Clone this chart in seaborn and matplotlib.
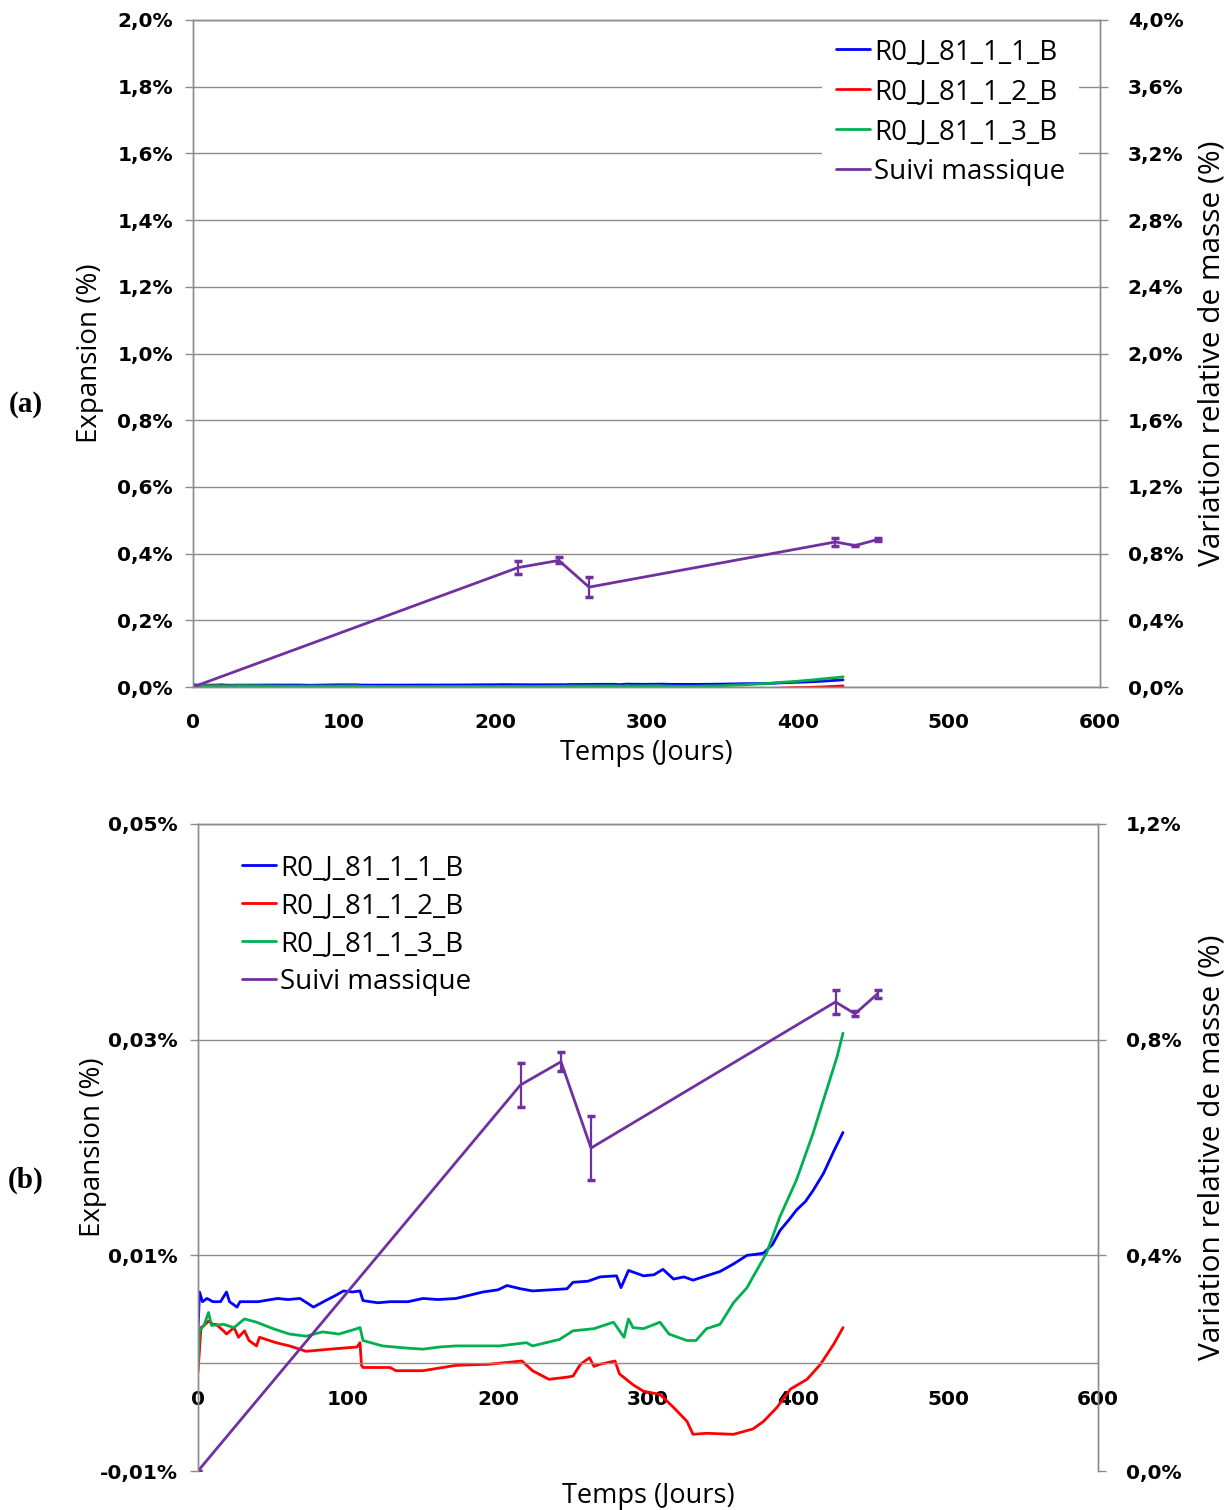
import numpy as np
import pandas as pd
import matplotlib
matplotlib.use("Agg")
import matplotlib.pyplot as plt
import seaborn as sns
from matplotlib.ticker import FuncFormatter
from matplotlib.font_manager import FontProperties

# ----------------------------------------------------------------
# DATA
# ----------------------------------------------------------------
# expansion (%) vs days, one list of (day, value) per gauge
blue_pts = [(0, 0.0030), (1, 0.0066), (3, 0.0057), (6, 0.0060), (10, 0.0057),
            (15, 0.0057), (19, 0.0066), (21, 0.0057), (26, 0.0052), (28, 0.0057),
            (40, 0.0057), (53, 0.0060), (60, 0.0059), (68, 0.0060), (77, 0.0052),
            (85, 0.0058), (92, 0.0063), (97, 0.0067), (103, 0.0066), (108, 0.0067),
            (110, 0.0058), (120, 0.0056), (128, 0.0057), (140, 0.0057), (150, 0.0060),
            (160, 0.0059), (172, 0.0060), (181, 0.0063), (190, 0.0066), (200, 0.0068),
            (206, 0.0072), (215, 0.0069), (223, 0.0067), (235, 0.0068), (246, 0.0069),
            (250, 0.0075), (260, 0.0076), (268, 0.0080), (279, 0.0081), (282, 0.0070),
            (287, 0.0086), (297, 0.0081), (304, 0.0082), (310, 0.0087), (317, 0.0078),
            (324, 0.0080), (330, 0.0077), (339, 0.0081), (348, 0.0085), (357, 0.0092),
            (366, 0.0100), (372, 0.0101), (377, 0.0102), (383, 0.0110), (388, 0.0123),
            (394, 0.0133), (399, 0.0142), (405, 0.0150), (410, 0.0160), (417, 0.0176),
            (424, 0.0197), (430, 0.0214)]

red_pts = [(0, -0.0008), (2, 0.0033), (4, 0.0035), (7, 0.0039), (10, 0.0036),
           (12, 0.0036), (17, 0.0030), (19, 0.0027), (24, 0.0033), (27, 0.0024),
           (31, 0.0030), (34, 0.0021), (39, 0.0016), (41, 0.0024), (52, 0.0019),
           (61, 0.0016), (72, 0.0011), (88, 0.0013), (106, 0.0015), (108, 0.0019),
           (109, -0.0002), (110, -0.0004), (128, -0.0004), (132, -0.0007), (150, -0.0007),
           (172, -0.0002), (194, -0.0001), (201, 0.0000), (216, 0.0002), (223, -0.0007),
           (234, -0.0015), (246, -0.0013), (250, -0.0012), (255, -0.0001), (261, 0.0005),
           (264, -0.0003), (268, -0.0001), (278, 0.0002), (281, -0.0010), (290, -0.0020),
           (297, -0.0026), (308, -0.0029), (317, -0.0041), (326, -0.0054), (330, -0.0066),
           (339, -0.0065), (357, -0.0066), (370, -0.0061), (377, -0.0054), (386, -0.0041),
           (395, -0.0024), (406, -0.0015), (415, -0.0001), (424, 0.0018), (430, 0.0033)]

green_pts = [(0, 0.0000), (1, 0.0030), (4, 0.0035), (7, 0.0047), (9, 0.0035),
             (17, 0.0036), (24, 0.0033), (31, 0.0041), (39, 0.0038), (50, 0.0032),
             (61, 0.0027), (72, 0.0025), (83, 0.0029), (94, 0.0027), (106, 0.0032),
             (108, 0.0033), (110, 0.0021), (123, 0.0016), (139, 0.0014), (150, 0.0013),
             (161, 0.0015), (172, 0.0016), (194, 0.0016), (201, 0.0016), (219, 0.0019),
             (223, 0.0016), (241, 0.0022), (250, 0.0030), (264, 0.0032), (277, 0.0038),
             (284, 0.0024), (287, 0.0041), (290, 0.0033), (297, 0.0032), (308, 0.0038),
             (314, 0.0027), (326, 0.0021), (332, 0.0021), (339, 0.0032), (348, 0.0036),
             (357, 0.0056), (366, 0.0070), (370, 0.0080), (379, 0.0102), (388, 0.0136),
             (399, 0.0170), (410, 0.0213), (419, 0.0253), (426, 0.0284), (430, 0.0306)]

series_names = ["R0_J_81_1_1_B", "R0_J_81_1_2_B", "R0_J_81_1_3_B"]
series_colors = ["#0000FF", "#FF0000", "#00B050"]

# relative mass variation (%) with error bars
mass_days = [0, 215, 242, 262, 425, 438, 453]
mass_vals = [0.0, 0.716, 0.759, 0.599, 0.870, 0.848, 0.885]
mass_err = [0.0, 0.040, 0.018, 0.060, 0.023, 0.005, 0.008]
mass_name = "Suivi massique"
PURPLE = "#7030A0"

GRID = "#8C8C8C"

frames = []
for name, pts in zip(series_names, [blue_pts, red_pts, green_pts]):
    d = pd.DataFrame(pts, columns=["day", "exp"])
    d["serie"] = name
    frames.append(d)
df = pd.concat(frames, ignore_index=True)

# ----------------------------------------------------------------
# SETUP
# ----------------------------------------------------------------
sns.set_style("white")
plt.rcParams['font.family'] = ['DejaVu Sans']
plt.rcParams['font.weight'] = 'bold'
plt.rcParams['text.color'] = 'black'
plt.rcParams['axes.labelcolor'] = 'black'

xlabel_font = FontProperties(family="Open Sans", weight="normal", size=19.5)
ylabel_font = FontProperties(family="Open Sans", weight="normal", size=20)
y2label_font = FontProperties(family="Open Sans", weight="normal", size=21.5)
legend_font = FontProperties(family="Open Sans", weight="normal", size=20)


def pct(decimals):
    return FuncFormatter(lambda v, p: f"{v:.{decimals}f}%".replace(".", ","))


def draw_panel(ax, ylim, yticks, ydec, y2lim, y2ticks, legend_kw):
    sns.lineplot(data=df, x="day", y="exp", hue="serie", palette=series_colors,
                 hue_order=series_names, estimator=None, sort=False,
                 linewidth=2.0, ax=ax, legend=False)
    ax2 = ax.twinx()
    ax2.errorbar(mass_days, mass_vals, yerr=mass_err, color=PURPLE, lw=2.0,
                 elinewidth=1.6, capsize=3, capthick=2.5)

    ax.set_xlim(0, 600)
    ax.set_xticks(range(0, 601, 100))
    ax.set_ylim(*ylim)
    ax.set_yticks(yticks)
    ax.yaxis.set_major_formatter(pct(ydec))
    ax2.set_ylim(*y2lim)
    ax2.set_yticks(y2ticks)
    ax2.yaxis.set_major_formatter(pct(1))

    ax.yaxis.grid(True, color=GRID, lw=1.0)
    ax.xaxis.grid(False)
    for a in (ax, ax2):
        for s in a.spines.values():
            s.set_color(GRID)
            s.set_linewidth(1.0)
        a.tick_params(direction="out", length=6, width=1, color=GRID,
                      labelsize=14.5, labelcolor="black")
    ax.tick_params(axis="x", pad=13)
    ax.tick_params(axis="y", pad=8.5)
    ax2.tick_params(axis="y", pad=14)

    ax.set_xlabel("Temps (Jours)", fontproperties=xlabel_font)
    ax.set_ylabel("Expansion (%)", fontproperties=ylabel_font)
    ax2.set_ylabel("Variation relative de masse (%)", fontproperties=y2label_font)

    handles = [plt.Line2D([], [], color=c, lw=2) for c in series_colors]
    handles.append(plt.Line2D([], [], color=PURPLE, lw=2))
    leg = ax2.legend(handles, series_names + [mass_name], prop=legend_font,
                     handlelength=1.2, handletextpad=0.16, borderpad=0.5,
                     borderaxespad=0, **legend_kw)
    leg.get_frame().set_edgecolor("none")
    leg.get_frame().set_alpha(1)
    return ax2


fig = plt.figure(figsize=(12.32, 15.10), dpi=100)

# ---- (a) full scale ----
ax_a = fig.add_axes([193 / 1232, 1 - 687 / 1510, 907 / 1232, 667 / 1510])
ax_a2 = draw_panel(ax_a, (0, 2.0), np.arange(0, 2.01, 0.2), 1,
                   (0, 4.0), np.arange(0, 4.01, 0.4),
                   dict(loc="upper right", bbox_to_anchor=(0.977, 0.994),
                        frameon=True, labelspacing=0.43))
ax_a.xaxis.set_label_coords(0.5, -0.078)
ax_a.yaxis.set_label_coords(-0.098, 0.5)
ax_a2.yaxis.set_label_coords(1.107, 0.5)

# ---- (b) zoom on expansion ----
ax_b = fig.add_axes([198 / 1232, 1 - 1471 / 1510, 900 / 1232, 647 / 1510])
ax_b2 = draw_panel(ax_b, (-0.01, 0.05), [-0.01, 0.01, 0.03, 0.05], 2,
                   (0, 1.2), [0, 0.4, 0.8, 1.2],
                   dict(loc="upper left", bbox_to_anchor=(0.034, 0.975),
                        frameon=False, labelspacing=0.36))
ax_b.spines["bottom"].set_position(("data", 0))
ax_b2.spines["bottom"].set_visible(False)
ax_b.get_ygridlines()[0].set_visible(False)
ax_b.xaxis.set_label_coords(0.5, -0.017)
ax_b.yaxis.set_label_coords(-0.101, 0.5)
ax_b2.yaxis.set_label_coords(1.11, 0.5)

# panel letters
fig.text(0.021, 1 - 405 / 1510, "(a)", family="Liberation Serif", weight="bold",
         size=21, va="center", ha="center", color="black")
fig.text(0.021, 1 - 1180 / 1510, "(b)", family="Liberation Serif", weight="bold",
         size=21, va="center", ha="center", color="black")

plt.savefig("out.png", dpi=100)
